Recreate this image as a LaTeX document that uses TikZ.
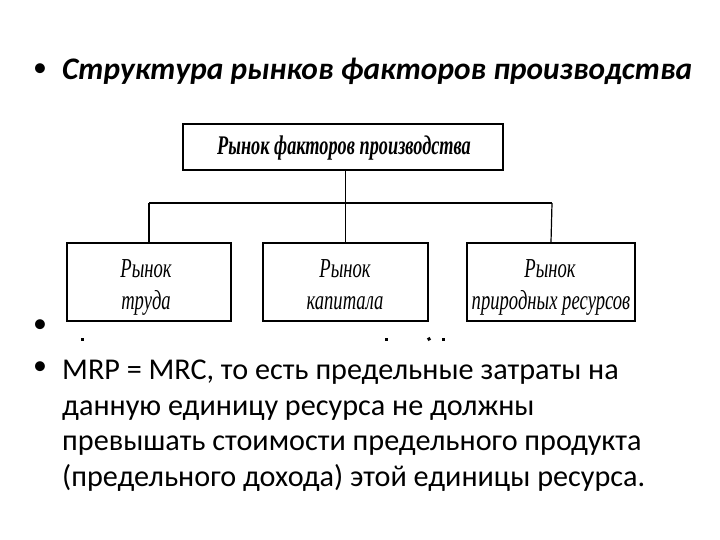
\documentclass[tikz,border=0pt]{standalone}
\usepackage{fontspec}
\usepackage{graphicx}
\setmainfont{Carlito}
\newfontfamily\boxfont{Liberation Serif}
\newcommand{\sqz}[1]{\scalebox{0.68}[1]{#1}}
\begin{document}
\begin{tikzpicture}[x=1bp,y=-1bp,
  bx/.style={draw, line width=1.5bp, inner sep=0pt},
  topbx/.style={draw, line width=1.9bp, inner sep=0pt},
  ln/.style={line width=1.2bp},
  bt/.style={font=\boxfont\itshape\fontsize{27.5}{33}\selectfont, anchor=base, inner sep=0pt},
  tt/.style={font=\boxfont\bfseries\itshape\fontsize{27}{30}\selectfont, anchor=base, inner sep=0pt},
  body/.style={font=\fontsize{30.3}{36}\selectfont, anchor=base west, inner sep=0pt},
  bul/.style={font=\fontsize{28}{30}\selectfont, inner sep=0pt},
  speck/.style={fill=black, inner sep=0pt, minimum size=3bp}]
\useasboundingbox (0,0) rectangle (720,540);
% title
\node[bul] (b1) at (40,70) {•};
\node[body, font=\bfseries\itshape\fontsize{31.5}{36}\selectfont] (title) at (62,80) {Структура рынков факторов производства};
% boxes
\node[topbx, minimum width=320bp, minimum height=46bp] (top) at (343,147) {};
\node[tt] (toptext) at (344,155) {\sqz{Рынок факторов производства}};
\node[bx, minimum width=164bp, minimum height=78bp] (left) at (149,282) {};
\node[bx, minimum width=165bp, minimum height=78bp] (mid) at (345.5,282) {};
\node[bx, minimum width=168bp, minimum height=78bp] (right) at (551,282) {};
\node[bt] (lt1) at (146,278) {\sqz{Рынок}};
\node[bt] (lt2) at (146,309) {\sqz{труда}};
\node[bt] (mt1) at (345,278) {\sqz{Рынок}};
\node[bt] (mt2) at (345,309) {\sqz{капитала}};
\node[bt] (rt1) at (550,278) {\sqz{Рынок}};
\node[bt] (rt2) at (551,309) {\sqz{природных ресурсов}};
% connectors
\coordinate (hl) at (149,203);
\coordinate (hr) at (552,203);
\draw[ln] (mid.north |- top.south) -- (mid.north);
\draw[ln] (hl) -- (hr);
\draw[ln] (hl) -- (left.north);
\draw[ln] (hr) -- (right.north);
% partially hidden line
\node[bul] (b2) at (40,326) {•};
\node[speck] (m1) at (82,339) {};
\node[speck] (m2) at (386,339) {};
\node[speck, rotate=30] (m3) at (429,339) {};
\node[speck] (m4) at (443,339) {};
% body text
\node[bul] (b3) at (40,368) {•};
\node[body] (l1) at (62,379) {MRP = MRC, то есть предельные затраты на};
\node[body] (l2) at (62,415) {данную единицу ресурса не должны};
\node[body] (l3) at (62,450) {превышать стоимости предельного продукта};
\node[body] (l4) at (62,486) {(предельного дохода) этой единицы ресурса.};
\end{tikzpicture}
\end{document}
